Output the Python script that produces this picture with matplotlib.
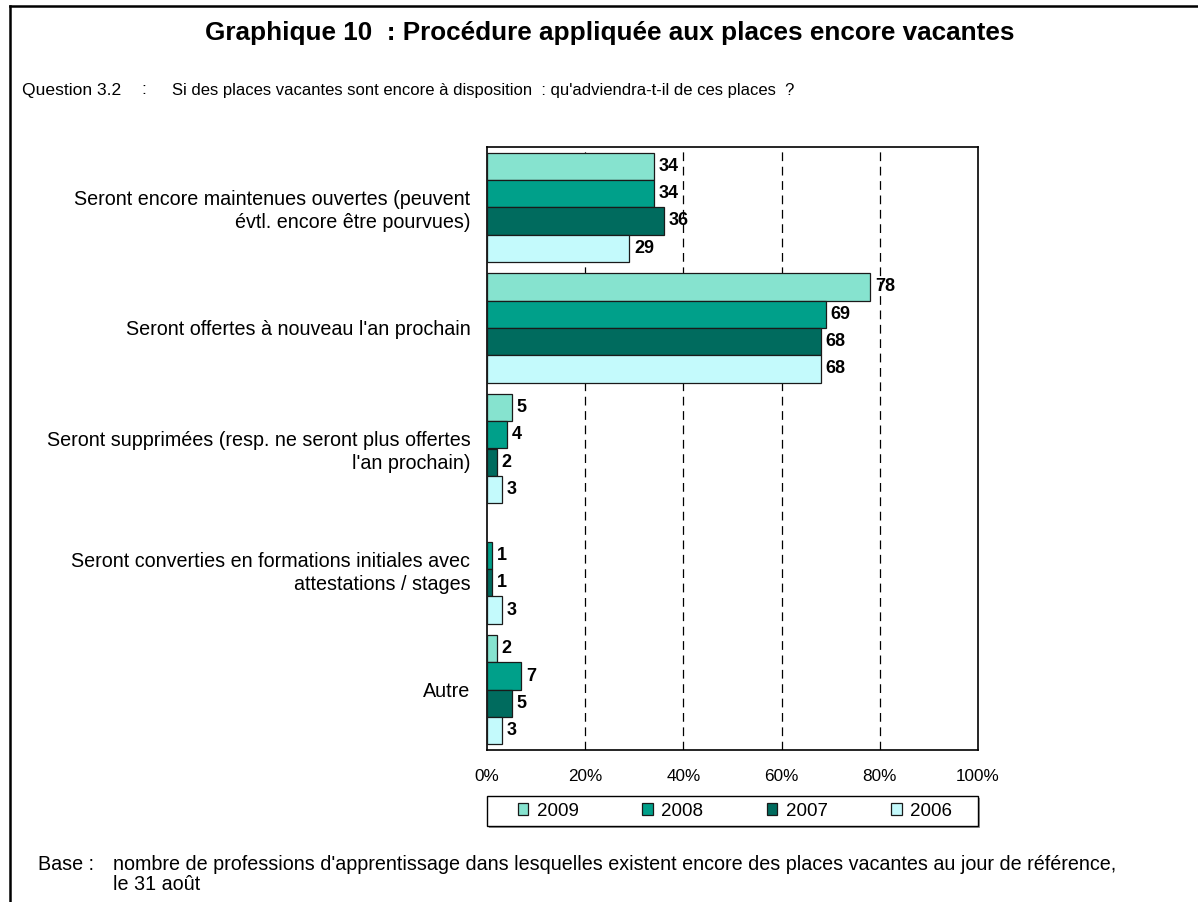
import numpy as np
import matplotlib.pyplot as plt
from matplotlib.lines import Line2D
from matplotlib.patches import Rectangle

plt.rcParams['font.family'] = ['Liberation Sans', 'DejaVu Sans']

categories = [
    "Seront encore maintenues ouvertes (peuvent\névtl. encore être pourvues)",
    "Seront offertes à nouveau l'an prochain",
    "Seront supprimées (resp. ne seront plus offertes\nl'an prochain)",
    "Seront converties en formations initiales avec\nattestations / stages",
    "Autre",
]
years = ["2009", "2008", "2007", "2006"]
v2009 = [34, 78, 5, None, 2]
v2008 = [34, 69, 4, 1, 7]
v2007 = [36, 68, 2, 1, 5]
v2006 = [29, 68, 3, 3, 3]
series = [v2009, v2008, v2007, v2006]
colors = ["#86E3CF", "#00A08A", "#006B5E", "#C4FAFC"]

W, H = 1198, 902
fig = plt.figure(figsize=(W / 100, H / 100), dpi=100)
ax = fig.add_axes([487/W, 1-750/H, 491/W, 603/H])

y = np.arange(len(categories))
h = 0.227
for i, (vals, col) in enumerate(zip(series, colors)):
    pos = y + (i - 1.5) * h
    for yy, v in zip(pos, vals):
        if v is None:
            continue
        ax.barh(yy, v, height=h, color=col, edgecolor="#1a1a1a", linewidth=0.9, zorder=3)
        ax.text(v + 1.0, yy, str(v), va="center", ha="left", fontsize=13,
                fontweight="bold", zorder=4)

ax.set_xlim(0, 100)
ax.set_ylim(len(categories) - 0.5, -0.5)
ax.set_xticks([0, 20, 40, 60, 80, 100])
ax.set_xticklabels([f"{t}%" for t in [0, 20, 40, 60, 80, 100]], fontsize=12.3)
ax.set_yticks(y)
ax.set_yticklabels(categories, fontsize=14.2, ha="right", multialignment="right",
                   linespacing=1.25)
ax.tick_params(axis="y", length=0, pad=12)
ax.tick_params(axis="x", length=0, pad=14)
for gx in [20, 40, 60, 80]:
    ax.axvline(gx, color="black", linestyle=(0, (7, 4.5)), linewidth=0.9, zorder=1)
for s in ax.spines.values():
    s.set_linewidth(1.2)

# legend box with slight shadow
fig.add_artist(Rectangle((489/W, 1-828/H), 491/W, 30/H, transform=fig.transFigure,
                         facecolor="#9a9a9a", edgecolor="none", zorder=1))
fig.add_artist(Rectangle((487/W, 1-826/H), 491/W, 30/H, transform=fig.transFigure,
                         facecolor="white", edgecolor="black", linewidth=1.0, zorder=2))
handles = [plt.Rectangle((0, 0), 1, 1, facecolor=c, edgecolor="#1a1a1a", linewidth=0.9)
           for c in colors]
leg = fig.legend(handles, years, loc="center", bbox_to_anchor=(735/W, 1-811/H),
                 ncol=4, fontsize=13.5, frameon=False,
                 handlelength=0.55, handleheight=0.55, handletextpad=0.45,
                 columnspacing=3.4, borderpad=0, borderaxespad=0)
leg.set_zorder(3)

fig.text(610/W, 1-33/H, "Graphique 10  : Procédure appliquée aux places encore vacantes",
         ha="center", va="center", fontsize=18.8, fontweight="bold")
fig.text(22/W, 1-90/H, "Question 3.2", ha="left", va="center", fontsize=12.6)
fig.text(141/W, 1-90/H, ":", ha="left", va="center", fontsize=12.6)
fig.text(172/W, 1-90/H,
         "Si des places vacantes sont encore à disposition  : qu'adviendra-t-il de ces places  ?",
         ha="left", va="center", fontsize=12.0)
fig.text(38/W, 1-865/H, "Base :", ha="left", va="center", fontsize=14.2)
fig.text(113/W, 1-865/H,
         "nombre de professions d'apprentissage dans lesquelles existent encore des places vacantes au jour de référence,",
         ha="left", va="center", fontsize=14.2)
fig.text(113/W, 1-884/H, "le 31 août", ha="left", va="center", fontsize=14.2)

# frame lines (top and left)
fig.add_artist(Line2D([10/W, 10/W], [0, 1-6/H], transform=fig.transFigure,
                      color="black", linewidth=1.8))
fig.add_artist(Line2D([10/W, 1], [1-6/H, 1-6/H], transform=fig.transFigure,
                      color="black", linewidth=1.8))

fig.savefig("out.png", dpi=100)
